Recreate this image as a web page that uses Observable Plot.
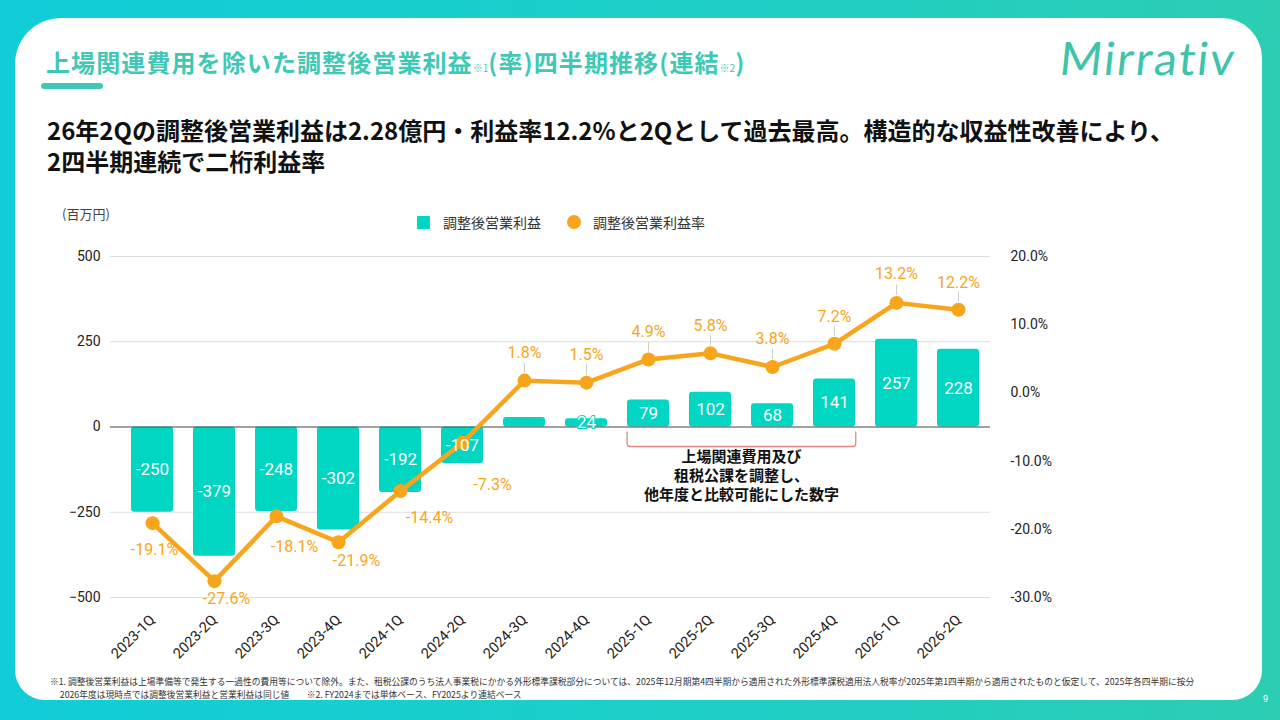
<!DOCTYPE html>
<html><head><meta charset="utf-8">
<script src="https://cdn.jsdelivr.net/npm/d3@7"></script>
<script src="https://cdn.jsdelivr.net/npm/@observablehq/plot@0.6"></script>
<style>
html,body{margin:0;padding:0}
body{width:1280px;height:720px;overflow:hidden;position:relative;background:linear-gradient(90deg,#10cdd8 0%,#1ccfc8 50%,#2ccdb3 100%);font-family:Roboto,"Noto Sans CJK JP",sans-serif}
#card{position:absolute;left:15px;top:18px;width:1247px;height:682px;background:#fff;border-radius:46px 40px 30px 30px}
.abs{position:absolute;white-space:nowrap}
#title{left:46px;top:44px;font-family:"Noto Sans CJK JP",sans-serif;font-weight:700;font-size:24px;color:#3fc8b5;letter-spacing:1.1px}
#title small{font-size:10px;font-weight:400;letter-spacing:0}
#uline{left:41px;top:83px;width:62px;height:6px;border-radius:3px;background:#3fc8b5}
#logo{left:1060px;top:30px;font-family:Lato,sans-serif;font-weight:400;font-size:46px;color:#3dc4ab;letter-spacing:2px;transform:skewX(-6deg)}
#sub1,#sub2{left:47px;font-family:"Noto Sans CJK JP",sans-serif;font-weight:700;font-size:24px;line-height:28px;color:#111}
#sub1{top:116px}
#sub2{top:147px}
#unit{left:62px;top:204px;font-family:"Noto Sans CJK JP",sans-serif;font-size:13px;color:#444}
#legend{left:417px;top:212px;font-family:"Noto Sans CJK JP",sans-serif;font-size:14px;color:#333;display:flex;align-items:center}
#legend .sq{width:13px;height:13px;background:#00d6c1;border-radius:1px;margin-right:13px}
#legend .ci{width:14px;height:14px;background:#f8a51c;border-radius:50%;margin-left:26px;margin-right:12px}
#chart{position:absolute;left:0;top:240px}
#foot{left:50px;top:675px;font-family:"Noto Sans CJK JP",sans-serif;font-size:8.75px;line-height:13px;color:#333}
#page{left:1263px;top:694px;font-size:9px;color:#fff}
</style></head>
<body>
<div id="card"></div>
<div id="title" class="abs">上場関連費用を除いた調整後営業利益<small>※1</small>(率)四半期推移(連結<small>※2</small>)</div>
<div id="uline" class="abs"></div>
<div id="logo" class="abs">Mirrativ</div>
<div id="sub1" class="abs">26年2Qの調整後営業利益は2.28億円・利益率12.2%と2Qとして過去最高。構造的な収益性改善により、</div>
<div id="sub2" class="abs">2四半期連続で二桁利益率</div>
<div id="unit" class="abs">(百万円)</div>
<div id="legend" class="abs"><span class="sq"></span><span>調整後営業利益</span><span class="ci"></span><span>調整後営業利益率</span></div>
<div id="chart"></div>
<div id="foot" class="abs">※1. 調整後営業利益は上場準備等で発生する一過性の費用等について除外。また、租税公課のうち法人事業税にかかる外形標準課税部分については、2025年12月期第4四半期から適用された外形標準課税適用法人税率が2025年第1四半期から適用されたものと仮定して、2025年各四半期に按分<br>&nbsp;&nbsp;&nbsp;&nbsp;&nbsp;2026年度は現時点では調整後営業利益と営業利益は同じ値　　※2. FY2024までは単体ベース、FY2025より連結ベース</div>
<div id="page" class="abs">9</div>
<script>
const quarters = ["2023-1Q","2023-2Q","2023-3Q","2023-4Q","2024-1Q","2024-2Q","2024-3Q","2024-4Q","2025-1Q","2025-2Q","2025-3Q","2025-4Q","2026-1Q","2026-2Q"];
const profit = [-250,-379,-248,-302,-192,-107,28,24,79,102,68,141,257,228];
const marginPct = [-19.1,-27.6,-18.1,-21.9,-14.4,-7.3,1.8,1.5,4.9,5.8,3.8,7.2,13.2,12.2];
const leftTicks = [-500,-250,0,250,500];
const rightTicks = [-30,-20,-10,0,10,20];
const bracketFrom = "2025-1Q";
const bracketTo = "2025-4Q";
const bracketLines = ["上場関連費用及び","租税公課を調整し、","他年度と比較可能にした数字"];

// layout constants (label nudges in px)
const nudge = [[2,27],[12,18],[18,31],[18,19],[29,27],[30,42],[0,-28],[0,-28],[0,-28],[0,-27],[0,-28],[0,-27],[0,-29],[0,-27]];
const TEAL = "#00d6c1", ORANGE = "#f8a51c";
const toLeft = p => (p + 5) * 20; // right axis (%) -> left axis units

const rows = quarters.map((q, i) => ({q, profit: profit[i], pct: marginPct[i]}));

const chart = Plot.plot({
  width: 1280,
  height: 432,
  marginTop: 16,
  marginBottom: 75,
  marginLeft: 110,
  marginRight: 290,
  style: {fontFamily: "Roboto, 'Noto Sans CJK JP', sans-serif", background: "transparent"},
  x: {domain: quarters, paddingInner: 0.32, paddingOuter: 0.16, insetLeft: 10, label: null},
  y: {domain: [-500, 500], label: null},
  marks: [
    Plot.gridY(leftTicks, {stroke: "#dedede", strokeOpacity: 1, strokeWidth: 1.2}),
    Plot.barY(rows, {x: "q", y: "profit", fill: TEAL, rx: 3}),
    Plot.ruleY([0], {stroke: "#555", strokeWidth: 1.2}),
    Plot.ruleX(rows.filter(d => d.pct > 0), {x: "q", y1: d => toLeft(d.pct) + 22, y2: d => toLeft(d.pct) + 52, stroke: "#d0d0d0", strokeWidth: 1}),
    Plot.line(rows, {x: "q", y: d => toLeft(d.pct), stroke: ORANGE, strokeWidth: 4.5}),
    Plot.dot(rows, {x: "q", y: d => toLeft(d.pct), r: 7, fill: ORANGE}),
    Plot.text(rows.filter(d => d.q !== "2024-3Q"), {
      x: "q", y: d => d.profit / 2, text: d => String(d.profit),
      fill: "white", stroke: d => Math.abs(d.profit) < 40 ? TEAL : "none", strokeWidth: 2,
      fontSize: 17
    }),
    ...rows.map((d, i) => Plot.text([d], {
      x: "q", y: r => toLeft(r.pct), text: r => r.pct.toFixed(1) + "%",
      dx: nudge[i][0], dy: nudge[i][1], fill: ORANGE, fontSize: 16
    })),
    Plot.axisY(leftTicks, {anchor: "left", tickSize: 0, tickPadding: 10, fontSize: 14, color: "#222", label: null}),
    Plot.axisY(rightTicks.map(toLeft), {anchor: "right", tickSize: 0, tickPadding: 20, fontSize: 14, color: "#222", label: null,
      tickFormat: v => (v / 20 - 5).toFixed(1) + "%"}),
    Plot.axisX({tickRotate: -45, tickSize: 0, tickPadding: 20, fontSize: 14.5, color: "#222", label: null})
  ]
});
document.getElementById("chart").appendChild(chart);

// Bracket annotation, positioned through the plot's own scales
(function () {
  const sx = chart.scale("x"), sy = chart.scale("y");
  const xs = d3.scaleBand().domain(sx.domain).range(sx.range)
    .paddingInner(sx.paddingInner ?? sx.padding ?? 0).paddingOuter(sx.paddingOuter ?? sx.padding ?? 0)
    .align(sx.align ?? 0.5);
  const ys = d3.scaleLinear().domain(sy.domain).range(sy.range);
  const x0 = xs(bracketFrom), x1 = xs(bracketTo) + xs.bandwidth();
  const y0 = ys(0);
  const svg = d3.select(chart.tagName.toLowerCase() === "svg" ? chart : chart.querySelector("svg"));
  const g = svg.append("g");
  const r = 3, top = y0 + 5, bot = y0 + 20;
  g.append("path")
    .attr("d", `M${x0},${top}V${bot - r}Q${x0},${bot} ${x0 + r},${bot}H${x1 - r}Q${x1},${bot} ${x1},${bot - r}V${top}`)
    .attr("fill", "none").attr("stroke", "#e98585").attr("stroke-width", 1.3);
  const cx = (x0 + x1) / 2;
  bracketLines.forEach((t, i) => {
    g.append("text").attr("x", cx).attr("y", y0 + 30 + i * 19).attr("dy", "0.36em")
      .attr("text-anchor", "middle").attr("font-size", 15).attr("font-weight", 700)
      .attr("font-family", "'Noto Sans CJK JP', sans-serif").attr("fill", "#111").text(t);
  });
})();
</script>
</body></html>
